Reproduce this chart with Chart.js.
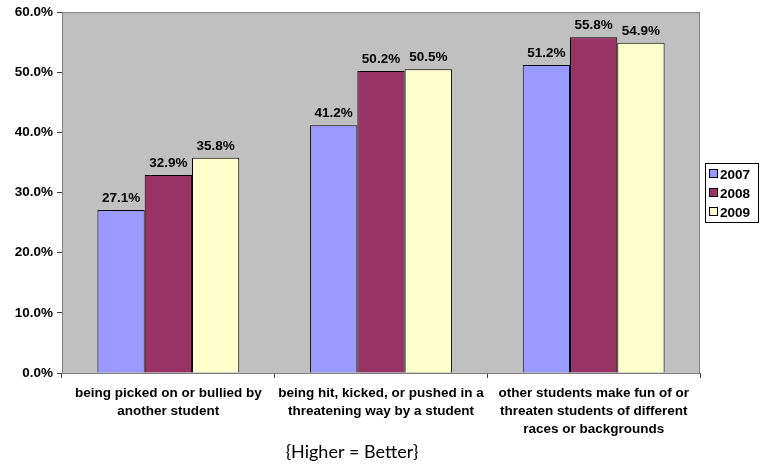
<!DOCTYPE html>
<html lang="en">
<head>
    <meta charset="UTF-8">
    <title>Bullying survey</title>
    <script src="https://cdn.jsdelivr.net/npm/chart.js"></script>
    <style>
        html, body { margin: 0; padding: 0; background: #fff; }
        #wrap { width: 766px; height: 464px; position: relative; }
    </style>
</head>
<body>
<div id="wrap"><canvas id="chart" width="766" height="464"></canvas></div>
<script>
    const categories = [
        ['being picked on or bullied by', 'another student'],
        ['being hit, kicked, or pushed in a', 'threatening way by a student'],
        ['other students make fun of or', 'threaten students of different', 'races or backgrounds']
    ];
    const years = ['2007', '2008', '2009'];
    const values2007 = [27.1, 41.2, 51.2];
    const values2008 = [32.9, 50.2, 55.8];
    const values2009 = [35.8, 50.5, 54.9];
    const colors = ['#9999FF', '#993366', '#FFFFCC'];
    const footnote = '{Higher = Better}';

    const family = '"Liberation Sans", Arial, sans-serif';
    const font = 'bold 13.5px ' + family;

    // grey plot background + frame
    const plotBg = {
        id: 'plotBg',
        beforeDatasetsDraw(chart) {
            const { ctx, chartArea: a } = chart;
            ctx.save();
            ctx.fillStyle = '#C0C0C0';
            ctx.fillRect(a.left, a.top, a.right - a.left, a.bottom - a.top);
            ctx.strokeStyle = '#808080';
            ctx.lineWidth = 1;
            ctx.strokeRect(a.left + 0.5, a.top + 0.5, a.right - a.left - 1, a.bottom - a.top);
            ctx.restore();
        }
    };

    // value labels over bars
    const barLabels = {
        id: 'barLabels',
        afterDatasetsDraw(chart) {
            const { ctx } = chart;
            ctx.save();
            ctx.font = font;
            ctx.fillStyle = '#000';
            ctx.textAlign = 'center';
            ctx.textBaseline = 'bottom';
            chart.data.datasets.forEach((ds, i) => {
                chart.getDatasetMeta(i).data.forEach((bar, j) => {
                    ctx.fillText(ds.data[j].toFixed(1) + '%', bar.x, bar.y - 5);
                });
            });
            ctx.restore();
        }
    };

    // boxed legend on the right + footnote
    const boxLegend = {
        id: 'boxLegend',
        afterDraw(chart) {
            const { ctx, chartArea: a } = chart;
            const x = a.right + 5, y = 163, w = 53, h = 59;
            ctx.save();
            ctx.fillStyle = '#fff';
            ctx.fillRect(x, y, w, h);
            ctx.strokeStyle = '#000';
            ctx.lineWidth = 1;
            ctx.strokeRect(x + 0.5, y + 0.5, w, h);
            ctx.font = font;
            ctx.textBaseline = 'middle';
            chart.data.datasets.forEach((ds, i) => {
                const cy = y + 11 + i * 19;
                ctx.fillStyle = ds.backgroundColor;
                ctx.fillRect(x + 4.5, cy - 4.5, 8, 8);
                ctx.strokeRect(x + 4.5, cy - 4.5, 8, 8);
                ctx.fillStyle = '#000';
                ctx.fillText(ds.label, x + 15, cy + 1);
            });
            ctx.font = '18px Lato, "Open Sans", sans-serif';
            ctx.textAlign = 'center';
            ctx.textBaseline = 'middle';
            ctx.fillText(footnote, 352, 452);
            ctx.restore();
        }
    };

    new Chart(document.getElementById('chart'), {
        type: 'bar',
        data: {
            labels: categories,
            datasets: years.map((y, i) => ({
                label: y,
                data: [values2007, values2008, values2009][i],
                backgroundColor: colors[i],
                borderColor: '#000',
                borderWidth: 1,
                categoryPercentage: 0.667,
                barPercentage: 1
            }))
        },
        options: {
            responsive: false,
            animation: false,
            layout: { padding: { top: 12, right: 66, left: 0, bottom: 0 } },
            plugins: { legend: { display: false }, title: { display: false }, tooltip: { enabled: false } },
            scales: {
                y: {
                    min: 0, max: 60,
                    afterFit(s) { s.width = 62; },
                    ticks: {
                        stepSize: 10,
                        padding: 4,
                        color: '#000',
                        font: { family, size: 13.5, weight: 'bold' },
                        callback: v => v.toFixed(1) + '%'
                    },
                    grid: { drawOnChartArea: false, tickLength: 5, color: '#404040' },
                    border: { color: '#404040' }
                },
                x: {
                    afterFit(s) { s.height = 91; },
                    ticks: {
                        padding: 6,
                        maxRotation: 0,
                        autoSkip: false,
                        color: '#000',
                        font: { family, size: 13.5, weight: 'bold', lineHeight: 1.33 }
                    },
                    grid: { drawOnChartArea: false, tickLength: 5, color: '#404040', offset: true },
                    border: { color: '#404040' }
                }
            }
        },
        plugins: [plotBg, barLabels, boxLegend]
    });
</script>
</body>
</html>
